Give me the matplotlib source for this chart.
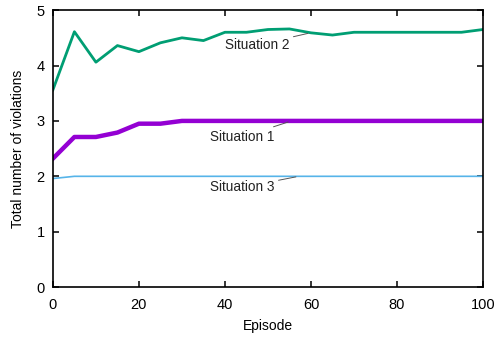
import numpy as np
import matplotlib
matplotlib.use('Agg')
import matplotlib.pyplot as plt

plt.rcParams['font.family'] = ['Liberation Sans', 'DejaVu Sans']

# episodes sampled every 5
episodes = list(range(0, 101, 5))
situation1 = [2.32, 2.71, 2.71, 2.79, 2.95, 2.95, 3.0, 3.0, 3.0, 3.0, 3.0,
              3.0, 3.0, 3.0, 3.0, 3.0, 3.0, 3.0, 3.0, 3.0, 3.0]
situation2 = [3.56, 4.61, 4.06, 4.36, 4.25, 4.41, 4.50, 4.45, 4.60, 4.60, 4.65,
              4.66, 4.59, 4.55, 4.60, 4.60, 4.60, 4.60, 4.60, 4.60, 4.65]
situation3 = [1.96, 2.0, 2.0, 2.0, 2.0, 2.0, 2.0, 2.0, 2.0, 2.0, 2.0,
              2.0, 2.0, 2.0, 2.0, 2.0, 2.0, 2.0, 2.0, 2.0, 2.0]

fig = plt.figure(figsize=(4.99, 3.37), dpi=100)
ax = fig.add_axes([0.106, 0.148, 0.862, 0.822])

ax.plot(episodes, situation2, color='#009e73', lw=2.0)
ax.plot(episodes, situation1, color='#9400d3', lw=3.2)
ax.plot(episodes, situation3, color='#56b4e9', lw=1.2)

# labels with leader lines, gnuplot style
lbl = dict(fontsize=9.8, color='#222222', va='center', ha='left')
arr = dict(arrowstyle='-', color='#555555', lw=0.7, shrinkA=1, shrinkB=0)
ax.annotate('Situation 2', xy=(59.3, 4.58), xytext=(40.0, 4.37), arrowprops=arr, **lbl)
ax.annotate('Situation 1', xy=(54.7, 2.98), xytext=(36.5, 2.71), arrowprops=arr, **lbl)
ax.annotate('Situation 3', xy=(56.5, 1.99), xytext=(36.5, 1.80), arrowprops=arr, **lbl)

ax.set_xlim(0, 100)
ax.set_ylim(0, 5)
ax.set_xticks(range(0, 101, 20))
ax.set_yticks(range(0, 6))
ax.tick_params(direction='in', top=True, right=True, length=4, width=1.1,
               labelsize=10.5)
ax.tick_params(axis='x', pad=8)
ax.tick_params(axis='y', pad=6)
for s in ax.spines.values():
    s.set_linewidth(1.2)

ax.set_xlabel('Episode', fontsize=10, labelpad=5)
ax.set_ylabel('Total number of violations', fontsize=10, labelpad=8)

fig.savefig('out.png', dpi=100)
